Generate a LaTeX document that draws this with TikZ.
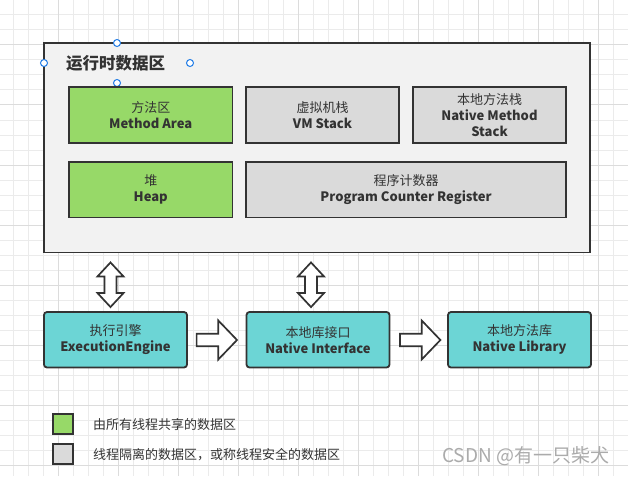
\documentclass[tikz,border=0pt]{standalone}
\usepackage{fontspec}
\setmainfont{Noto Sans CJK SC}
\definecolor{linec}{HTML}{333333}
\definecolor{txtc}{HTML}{333333}
\definecolor{outerfill}{HTML}{F2F2F2}
\definecolor{greenfill}{HTML}{97D968}
\definecolor{grayfill}{HTML}{DADADA}
\definecolor{tealfill}{HTML}{6CD5D5}
\definecolor{gridlight}{HTML}{EBEBEB}
\definecolor{griddark}{HTML}{DCDCDC}
\definecolor{handle}{HTML}{1F7BE6}
\definecolor{wmark}{HTML}{ABABAB}
\tikzset{
  boxtext/.style={align=center, inner sep=0pt, text=txtc, font=\fontsize{13}{16}\selectfont},
  areabox/.style={boxtext, draw=linec, line width=1.8pt},
  shared/.style={areabox, fill=greenfill},
  private/.style={areabox, fill=grayfill},
  engine/.style={boxtext, draw=linec, line width=1.8pt, fill=tealfill, rounded corners=3pt, minimum width=143pt, minimum height=55.5pt},
  blockarrow/.style={draw=linec, fill=white, line width=1.7pt, line join=miter},
  handledot/.style={circle, draw=handle, fill=white, line width=1pt, minimum size=7pt, inner sep=0pt},
  legendbox/.style={draw=linec, line width=1.8pt, minimum width=20pt, minimum height=20pt, inner sep=0pt},
  legendtext/.style={anchor=west, inner sep=0pt, text=txtc, font=\fontsize{13}{16}\selectfont},
  rarrow/.pic={\draw[blockarrow] (-20.2,-6.2) -- (1.5,-6.2) -- (1.5,-19.5) -- (20.2,0) -- (1.5,19.5) -- (1.5,6.2) -- (-20.2,6.2) -- cycle;},
  udarrow/.pic={\draw[blockarrow] (0,-22.3) -- (13,-8.3) -- (6,-8.3) -- (6,8.3) -- (13,8.3) -- (0,22.3) -- (-13,8.3) -- (-6,8.3) -- (-6,-8.3) -- (-13,-8.3) -- cycle;}
}
\begin{document}
\begin{tikzpicture}[x=1pt,y=-1pt]
\useasboundingbox (0,0) rectangle (628,476);
\fill[white] (0,0) rectangle (628,476);
% grid
\foreach \i in {0,...,41} {
  \pgfmathsetmacro\gx{13.3+15*\i}
  \draw[gridlight, line width=1pt] (\gx,0) -- (\gx,476);
}
\foreach \j in {1,...,31} {
  \pgfmathsetmacro\gy{15*\j}
  \draw[gridlight, line width=1pt] (0,\gy) -- (628,\gy);
}
\foreach \i in {0,...,9} {
  \pgfmathsetmacro\gx{58.3+60*\i}
  \draw[griddark, line width=1pt] (\gx,0) -- (\gx,476);
}
\foreach \j in {0,...,7} {
  \pgfmathsetmacro\gy{45+60*\j}
  \draw[griddark, line width=1pt] (0,\gy) -- (628,\gy);
}
% runtime data area
\node[draw=linec, line width=1.8pt, fill=outerfill, minimum width=546pt, minimum height=209.5pt, inner sep=0pt] (rt) at (317,147.75) {};
\node[anchor=west, inner sep=0pt, text=txtc, font=\bfseries\fontsize{16.5}{18}\selectfont] (title) at (66,63.5) {运行时数据区};
\node[handledot] (h1) at (117,43) {};
\node[handledot] (h2) at (44,63) {};
\node[handledot] (h3) at (190,63) {};
\node[handledot] (h4) at (117,83) {};
% inner regions
\node[shared, minimum width=163.5pt, minimum height=56pt] (method) at (150.75,115) {方法区\\\textbf{Method Area}};
\node[private, minimum width=153pt, minimum height=56pt] (vm) at (322.5,115) {虚拟机栈\\\textbf{VM Stack}};
\node[private, minimum width=153pt, minimum height=56pt] (nms) at (489.5,115) {本地方法栈\\\textbf{Native Method}\\\textbf{Stack}};
\node[shared, minimum width=163.5pt, minimum height=55.5pt] (heap) at (150.75,189.75) {堆\\\textbf{Heap}};
\node[private, minimum width=320pt, minimum height=55.5pt] (pc) at (406,189.75) {程序计数器\\\textbf{Program Counter Register}};
% bottom row
\node[engine] (exec) at (115.5,339.75) {执行引擎\\\textbf{ExecutionEngine}};
\node[engine] (ni) at (318,339.75) {本地库接口\\\textbf{Native Interface}};
\node[engine] (nl) at (519.5,339.75) {本地方法库\\\textbf{Native Library}};
% block arrows
\pic at (110.5,284.75) {udarrow};
\pic at (311,284.75) {udarrow};
\pic at (216.8,340) {rarrow};
\pic at (420.2,340) {rarrow};
% legend
\node[legendbox, fill=greenfill] (lg1) at (63,423.8) {};
\node[legendbox, fill=grayfill] (lg2) at (63,453.8) {};
\node[legendtext] (lt1) at (93,424.5) {由所有线程共享的数据区};
\node[legendtext] (lt2) at (93,455) {线程隔离的数据区，或称线程安全的数据区};
% watermark
\node[anchor=west, inner sep=0pt, text=wmark, font=\fontsize{19}{22}\selectfont] (wm) at (442,456.5) {CSDN @有一只柴犬};
\end{tikzpicture}
\end{document}
